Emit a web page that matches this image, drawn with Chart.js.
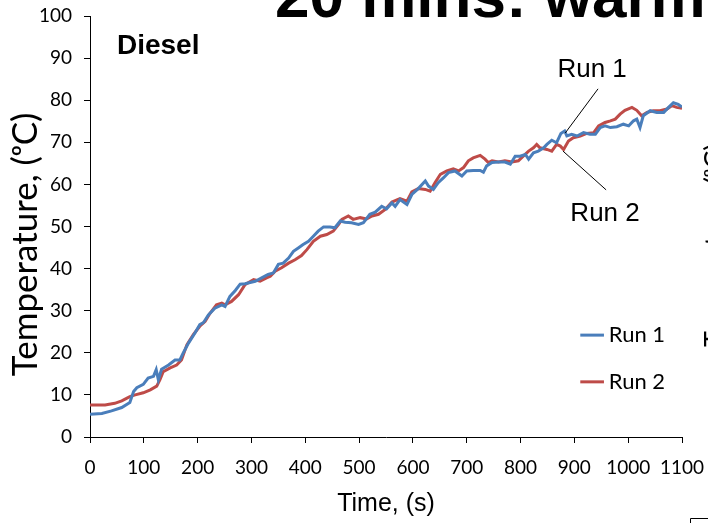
<!DOCTYPE html>
<html>
<head>
<meta charset="utf-8">
<script src="https://cdn.jsdelivr.net/npm/chart.js@4/dist/chart.umd.min.js"></script>
<style>
html,body{margin:0;padding:0;background:#fff;}
#wrap{position:relative;width:708px;height:523px;}
</style>
</head>
<body>
<div id="wrap"><canvas id="c"></canvas></div>
<script>
// ---- data ----
const seriesNames = ["Run 1", "Run 2"];
const run1Time = [0,22,40,59,74,81,87,99,108,118,123,127,133,146,158,167,173,183,195,204,211,220,232,245,251,260,270,279,288,307,319,331,341,350,359,369,378,387,396,406,415,424,434,446,455,465,474,486,499,508,520,530,542,551,561,567,576,589,598,610,623,629,638,647,657,666,678,691,700,712,725,731,737,747,759,771,781,790,799,809,815,824,833,843,849,858,867,875,882,886,895,905,917,929,939,948,957,967,979,991,1001,1010,1016,1022,1028,1041,1053,1066,1075,1084,1093,1100];
const run1Temp = [5.4,5.6,6.2,7.0,8.2,10.8,11.7,12.5,14.0,14.4,16.0,13.6,16.1,17.1,18.3,18.3,19.9,22.3,24.7,26.7,27.2,29.0,30.6,31.4,31.0,33.4,34.8,36.3,36.4,37.0,37.8,38.6,39.0,41.0,41.3,42.5,44.1,44.9,45.7,46.5,47.7,48.9,49.9,49.9,49.7,51.3,51.0,50.9,50.5,50.9,52.9,53.4,54.8,54.2,55.6,54.8,56.4,55.2,57.6,59.0,60.8,59.6,58.8,60.4,61.6,62.8,63.2,62.0,63.2,63.3,63.3,62.9,64.4,65.2,65.3,65.3,64.8,66.7,66.7,67.1,66.0,67.5,67.9,68.7,69.5,70.5,69.9,72.1,72.7,71.5,71.9,71.5,72.3,71.9,71.9,73.5,73.9,73.5,73.7,74.3,73.9,75.1,75.5,73.5,76.3,77.5,77.1,77.1,78.3,79.4,79.0,78.4];
const run2Time = [0,28,46,59,74,84,99,112,124,130,136,149,161,170,180,192,204,214,223,235,245,251,263,276,288,304,316,328,335,344,356,369,381,393,403,415,428,440,452,462,468,480,489,502,514,524,536,548,561,576,589,598,610,623,632,641,651,663,675,685,694,703,712,725,734,740,747,759,771,784,796,805,815,824,830,836,849,858,867,874,880,889,898,911,923,936,945,957,967,976,985,994,1007,1016,1025,1035,1047,1059,1072,1081,1090,1100];
const run2Temp = [7.6,7.6,8.0,8.6,9.6,10.0,10.5,11.2,12.1,13.6,15.5,16.4,17.1,18.3,21.9,24.3,26.3,27.5,29.4,31.4,31.8,31.4,32.2,33.8,36.2,37.4,37.0,37.8,38.2,39.4,40.2,41.3,42.1,43.1,44.5,46.5,47.7,48.1,48.9,50.5,51.7,52.5,51.7,52.1,51.8,52.5,52.9,54.0,55.8,56.6,56.0,58.2,59.0,58.8,58.4,60.4,62.4,63.2,63.7,63.2,64.0,65.6,66.3,66.9,66.0,65.2,65.6,65.3,65.6,65.3,65.6,66.7,67.9,68.7,69.5,68.7,68.3,67.9,69.5,69.1,68.3,70.3,71.1,71.5,72.1,72.3,73.9,74.7,75.1,75.5,76.7,77.6,78.3,77.6,76.3,77.1,77.5,77.5,77.9,78.7,78.3,78.1];
const xTicks = [0,100,200,300,400,500,600,700,800,900,1000,1100];
const yTicks = [0,10,20,30,40,50,60,70,80,90,100];
const xTitle = "Time, (s)";
const yTitle = "Temperature, (\u1D52C)";
const panelLabel = "Diesel";
const slideTitle = "20 mins: warm";

const colors = ["#4A7EBB", "#BE4B48"];
const calibri = "Lato, 'Open Sans', sans-serif";
const arial = "'Liberation Sans', Arial, sans-serif";

function pts(t, v){ return t.map((x,i)=>({x:x, y:v[i]})); }

const extras = {
  id: 'extras',
  afterDraw(chart){
    const ctx = chart.ctx;
    const xs = chart.scales.x, ys = chart.scales.y;
    const X = v => xs.getPixelForValue(v), Y = v => ys.getPixelForValue(v);
    ctx.save();
    ctx.fillStyle = '#000';
    // slide title fragment (cropped at top)
    ctx.font = "bold 62px " + arial;
    ctx.textBaseline = 'alphabetic';
    ctx.textAlign = 'left';
    ctx.fillText(slideTitle, 275, 17);
    // panel label
    ctx.font = "bold 28px " + arial;
    ctx.textBaseline = 'middle';
    ctx.fillText(panelLabel, X(50), Y(92.9));
    // callouts
    ctx.font = "26px " + arial;
    ctx.textAlign = 'center';
    ctx.fillText(seriesNames[0], X(933), Y(87.2));
    ctx.fillText(seriesNames[1], X(957), Y(53));
    ctx.strokeStyle = '#000';
    ctx.lineWidth = 1;
    ctx.beginPath();
    ctx.moveTo(X(944), Y(82.7)); ctx.lineTo(X(883), Y(72.2));
    ctx.moveTo(X(879), Y(67.9)); ctx.lineTo(X(959), Y(58.7));
    ctx.stroke();
    // legend
    ctx.font = "22px " + calibri;
    ctx.textAlign = 'left';
    const legY = [24.2, 13.1];
    chart.data.datasets.forEach((ds,i)=>{
      const y = Y(legY[i]);
      ctx.strokeStyle = ds.borderColor;
      ctx.lineWidth = 3;
      ctx.beginPath(); ctx.moveTo(X(911), y); ctx.lineTo(X(955), y); ctx.stroke();
      ctx.fillStyle = '#000';
      ctx.fillText(ds.label, X(964), y);
    });
    // fragments of the neighbouring chart at the right edge
    ctx.save();
    ctx.translate(702, 347);
    ctx.rotate(-Math.PI/2);
    ctx.font = "27px " + calibri;
    ctx.textBaseline = 'top';
    ctx.textAlign = 'left';
    ctx.fillStyle = '#000';
    ctx.fillText(yTitle, 0, 0);
    ctx.restore();
    ctx.strokeStyle = '#000';
    ctx.lineWidth = 1;
    ctx.beginPath();
    ctx.moveTo(690.5, 523); ctx.lineTo(690.5, 518.5); ctx.lineTo(708, 518.5);
    ctx.stroke();
    ctx.restore();
  }
};

new Chart(document.getElementById('c'), {
  type: 'line',
  data: {
    datasets: [
      {label: seriesNames[0], data: pts(run1Time, run1Temp), borderColor: colors[0], backgroundColor: colors[0], borderWidth: 3, pointRadius: 0, tension: 0, fill: false},
      {label: seriesNames[1], data: pts(run2Time, run2Temp), borderColor: colors[1], backgroundColor: colors[1], borderWidth: 3, pointRadius: 0, tension: 0, fill: false}
    ]
  },
  options: {
    responsive: true,
    maintainAspectRatio: false,
    animation: false,
    layout: {padding: {top: 16, right: 26, left: 0, bottom: 0}},
    plugins: {legend: {display: false}, tooltip: {enabled: false}},
    scales: {
      x: {
        type: 'linear', min: 0, max: 1100,
        afterBuildTicks: s => { s.ticks = xTicks.map(v=>({value:v})); },
        afterFit: s => { s.height = 86; s.paddingLeft = 0; s.paddingRight = 0; },
        ticks: {font: {family: calibri, size: 19}, color: '#000', padding: 13, maxRotation: 0, autoSkip: false, callback: v => String(v)},
        grid: {display: true, drawOnChartArea: false, drawTicks: true, tickLength: 6, color: '#000'},
        border: {display: true, color: '#000', width: 1},
        title: {display: true, text: xTitle, font: {family: arial, size: 25}, color: '#000', padding: {top: 4}}
      },
      y: {
        type: 'linear', min: 0, max: 100,
        afterBuildTicks: s => { s.ticks = yTicks.map(v=>({value:v})); },
        afterFit: s => { s.width = 90; s.paddingTop = 0; s.paddingBottom = 0; },
        ticks: {font: {family: calibri, size: 19}, color: '#000', padding: 12, autoSkip: false, callback: v => String(v)},
        grid: {display: true, drawOnChartArea: false, drawTicks: true, tickLength: 6, color: '#000'},
        border: {display: true, color: '#000', width: 1},
        title: {display: true, text: yTitle + "    ", font: {family: calibri, size: 35}, color: '#000', padding: {top: 5, bottom: 2}}
      }
    }
  },
  plugins: [extras]
});
</script>
</body>
</html>
